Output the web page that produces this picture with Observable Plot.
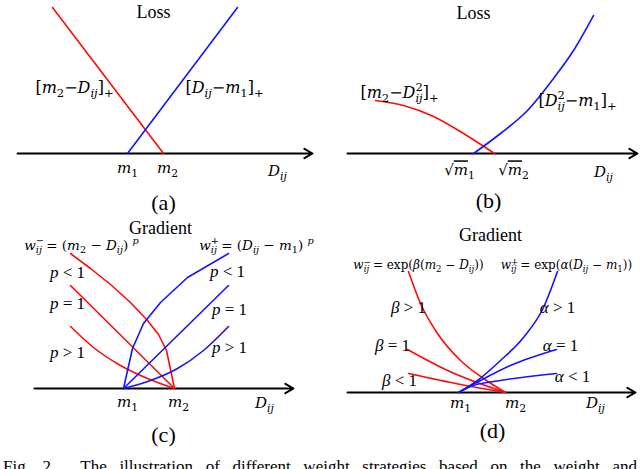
<!DOCTYPE html>
<html><head><meta charset="utf-8">
<script src="https://cdn.jsdelivr.net/npm/d3@7"></script>
<script src="https://cdn.jsdelivr.net/npm/@observablehq/plot@0.6"></script>
<style>
body{margin:0;background:#fff;}
#wrap{position:relative;width:640px;height:469px;overflow:hidden;background:#fff;}
.panel{position:absolute;}
#cap{position:absolute;left:3px;top:457px;width:634px;font:17px "Liberation Serif";line-height:20px;text-align:justify;text-align-last:justify;color:#000;}
</style></head><body>
<div id="wrap"><div id="cap">Fig. 2.&nbsp; The illustration of different weight strategies based on the weight and</div></div>
<script>
// ---------- data (x = position along D axis, y = height above the D axis) ----------
// panel (a)
const aRed  = [[52,146],[163,0]];
const aBlue = [[127,0],[237,146]];
const aAxis = [17,312];
const aTitle = [{t:"Loss", x:153, y:141}];
const aCaption = [{t:"(a)", x:163, y:-49}];
const aMath = [{t:"$[m_{2}−D_{ij}]_{+}", x:74, y:66}, {t:"$[D_{ij}−m_{1}]_{+}", x:224, y:66}];
const aTicks = [{t:"$m_{1}", x:127, y:-15}, {t:"$m_{2}", x:167, y:-15}, {t:"$D_{ij}", x:277, y:-18}];
// panel (b)
const bRed  = [[55,53],[83,48],[113,37],[143,20],[174,0]];
const bBlue = [[153,0],[180,20],[207,43],[233,75],[253,103],[273,138]];
const bAxis = [27,317];
const bTitle = [{t:"Loss", x:153, y:140}];
const bCaption = [{t:"(b)", x:168, y:-47}];
const bMath = [{t:"$[m_{2}−D^{2}_{ij}]_{+}", x:79, y:61}, {t:"$[D^{2}_{ij}−m_{1}]_{+}", x:257, y:53}];
const bTicks = [{t:"$√~{m}_{1}", x:139, y:-17}, {t:"$√~{m}_{2}", x:193, y:-17}, {t:"$D_{ij}", x:283, y:-19}];
// panel (c)
const cRedLt  = [[70,135],[90,120],[110,104],[130,86],[147,68],[158,54],[166,38],[174,0]];
const cRedEq  = [[70,103],[174,0]];
const cRedGt  = [[70,62],[93,41],[120,23],[147,10],[174,0]];
const cBlueLt = [[123,0],[132,40],[143,65],[160,86],[187,111],[228,135]];
const cBlueEq = [[123,0],[228,103]];
const cBlueGt = [[123,0],[150,8],[177,20],[203,38],[228,62]];
const cAxis = [34,293];
const cTitle = [{t:"Gradient", x:160, y:160}];
const cCaption = [{t:"(c)", x:163, y:-46}];
const cFormula = [{t:"$w^{−}_{ij} = (m_{2} − D_{ij}) ^{p}", x:81, y:143}, {t:"$w^{+}_{ij} = (D_{ij} − m_{1}) ^{p}", x:256, y:143}];
const cParams = [{t:"$p < 1", x:67, y:116}, {t:"$p = 1", x:67, y:85}, {t:"$p > 1", x:67, y:36},
                 {t:"$p < 1", x:227, y:117}, {t:"$p = 1", x:229, y:79}, {t:"$p > 1", x:229, y:41}];
const cTicks = [{t:"$m_{1}", x:127, y:-14}, {t:"$m_{2}", x:178, y:-14}, {t:"$D_{ij}", x:264, y:-15}];
// panel (d)
const dRedGt  = [[88,121],[100,89],[117,59],[140,32],[163,14],[185,0]];
const dRedEq  = [[87,43],[127,22],[185,0]];
const dRedLt  = [[88,19],[140,8],[185,0]];
const dBlueGt = [[138,0],[157,12],[180,32],[203,55],[223,85],[237,121]];
const dBlueEq = [[138,0],[160,12],[190,27],[236,43]];
const dBlueLt = [[138,0],[150,6],[180,12],[236,19]];
const dAxis = [27,315];
const dTitle = [{t:"Gradient", x:170, y:157}];
const dCaption = [{t:"(d)", x:172, y:-38}];
const dFormula = [{t:"$w^{−}_{ij} = exp(β(m_{2} − D_{ij}))", x:98, y:127}, {t:"$w^{+}_{ij} = exp(α(D_{ij} − m_{1}))", x:246, y:127}];
const dParams = [{t:"$β > 1", x:88, y:85}, {t:"$β = 1", x:72, y:47}, {t:"$β < 1", x:79, y:12},
                 {t:"$α > 1", x:237, y:85}, {t:"$α = 1", x:240, y:47}, {t:"$α < 1", x:252, y:16}];
const dTicks = [{t:"$m_{1}", x:140, y:-11}, {t:"$m_{2}", x:195, y:-11}, {t:"$D_{ij}", x:275, y:-11}];

// ---------- drawing ----------
const RED = "#ff0a0a", BLUE = "#1414ff";
const SERIF = "Liberation Serif", MATH = "DejaVu Serif";
const px = d => d[0], py = d => d[1];

function curve(data, stroke, c = "monotone-x") {
  return Plot.line(data, {x: px, y: py, stroke, strokeWidth: 1.6, curve: c});
}
function axisArrow(ext) {
  return Plot.arrow([ext], {x1: d => d[0], x2: d => d[1], y1: () => 0, y2: () => 0,
    stroke: "#000", strokeWidth: 2, headLength: 7, bend: 0});
}
function label(data, size, family = SERIF) {
  return Plot.text(data, {x: "x", y: "y", text: "t", fontSize: size, fontFamily: family, fill: "#000"});
}

function panel(left, top, height, yDomain, marks) {
  const svg = Plot.plot({
    width: 320, height, margin: 0,
    x: {domain: [0, 320], axis: null},
    y: {domain: yDomain, axis: null},
    style: {background: "transparent", overflow: "visible"},
    marks
  });
  svg.classList.add("panel");
  svg.style.left = left + "px";
  svg.style.top = top + "px";
  document.getElementById("wrap").appendChild(svg);
  richify(svg);
}

const NS = "http://www.w3.org/2000/svg";
function richify(svg) {
  svg.querySelectorAll("text").forEach(el => {
    const raw = el.textContent;
    if (!raw.startsWith("$")) return;
    const s = raw.slice(1);
    const fs = parseFloat(getComputedStyle(el).fontSize) || 16;
    el.textContent = "";
    const segs = [];
    const isMark = k => /[~_^]/.test(s[k]);
    let i = 0;
    while (i < s.length) {
      let j = i, mode = "";
      while (j < s.length && isMark(j)) { mode += s[j]; j++; }
      if (mode && s[j] === "{") {
        const e = s.indexOf("}", j);
        segs.push({mode, s: s.slice(j + 1, e)});
        i = e + 1;
      } else {
        j = i;
        while (j < s.length) {
          let k = j, m = "";
          while (k < s.length && isMark(k)) { m += s[k]; k++; }
          if (m && s[k] === "{") break;
          j = Math.max(k, j + 1);
        }
        segs.push({mode: "", s: s.slice(i, j)});
        i = j;
      }
    }
    let cur = 0, lastSup = null;
    segs.forEach((g, k) => {
      const sub = g.mode.includes("_"), sup = g.mode.includes("^"), over = g.mode.includes("~");
      const shift = sub ? 0.25 * fs : sup ? -0.4 * fs : 0;
      const size = (sub || sup) ? 0.72 * fs : fs;
      let dx = 0;
      if (sub && k > 0 && segs[k - 1].mode.includes("^") && lastSup) dx = -lastSup.getComputedTextLength();
      const parts = g.s.match(/[A-Za-zα-ω]+|[^A-Za-zα-ω]+/g) || [];
      let first = null;
      parts.forEach((p, pi) => {
        const t = document.createElementNS(NS, "tspan");
        if (pi === 0) {
          if (shift - cur) t.setAttribute("dy", shift - cur);
          if (dx) t.setAttribute("dx", dx);
          cur = shift;
          first = t;
        }
        t.setAttribute("font-size", size);
        if (/[A-Za-zα-ω]/.test(p) && p !== "exp") t.setAttribute("font-style", "italic");
        if (over) t.setAttribute("text-decoration", "overline");
        t.textContent = p;
        el.appendChild(t);
      });
      lastSup = sup ? first : null;
    });
  });
}

panel(0, 0, 210, [-57, 153], [
  axisArrow(aAxis), curve(aRed, RED), curve(aBlue, BLUE),
  label(aTitle, 18), label(aCaption, 22), label(aMath, 16, MATH), label(aTicks, 15, MATH)
]);
panel(320, 0, 210, [-57, 153], [
  axisArrow(bAxis), curve(bRed, RED), curve(bBlue, BLUE),
  label(bTitle, 18), label(bCaption, 22), label(bMath, 16, MATH), label(bTicks, 15, MATH)
]);
panel(0, 210, 238, [-60, 178], [
  axisArrow(cAxis),
  curve(cRedLt, RED, "linear"), curve(cRedEq, RED), curve(cRedGt, RED),
  curve(cBlueLt, BLUE, "linear"), curve(cBlueEq, BLUE), curve(cBlueGt, BLUE),
  label(cTitle, 18), label(cCaption, 22), label(cFormula, 13.5, MATH), label(cParams, 17), label(cTicks, 15, MATH)
]);
panel(320, 210, 238, [-56, 182], [
  axisArrow(dAxis),
  curve(dRedGt, RED), curve(dRedEq, RED), curve(dRedLt, RED),
  curve(dBlueGt, BLUE), curve(dBlueEq, BLUE), curve(dBlueLt, BLUE),
  label(dTitle, 18), label(dCaption, 22), label(dFormula, 12, MATH), label(dParams, 17), label(dTicks, 15, MATH)
]);
</script>
</body></html>
